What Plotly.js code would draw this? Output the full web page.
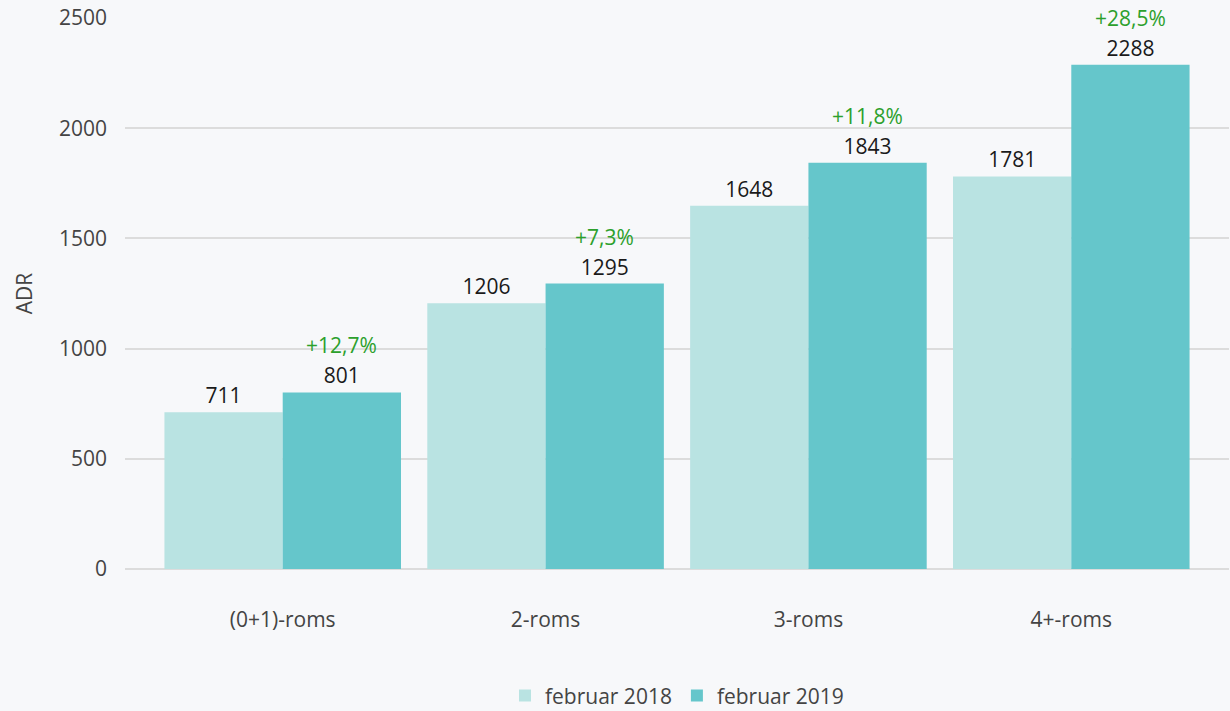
<!DOCTYPE html>
<html>
<head>
<meta charset="utf-8">
<script src="https://cdn.plot.ly/plotly-3.0.1.min.js"></script>
<style>html,body{margin:0;padding:0;background:#f7f8fa;}#chart{width:1230px;height:711px;}</style>
</head>
<body>
<div id="chart"></div>
<script>
const categories = ["(0+1)-roms", "2-roms", "3-roms", "4+-roms"];
const series2018 = [711, 1206, 1648, 1781];
const series2019 = [801, 1295, 1843, 2288];
const changeLabels = ["+12,7%", "+7,3%", "+11,8%", "+28,5%"];
const seriesNames = ["februar 2018", "februar 2019"];

const FONT = "Open Sans, Lato, sans-serif";
const FS = 21;

const traces = [
  {type: "bar", name: seriesNames[0], x: categories, y: series2018,
   marker: {color: "#b9e3e2"}, text: series2018.map(String), textposition: "outside",
   textfont: {color: "#1a1a1a", size: FS, family: FONT}, cliponaxis: false, hoverinfo: "x+y"},
  {type: "bar", name: seriesNames[1], x: categories, y: series2019,
   marker: {color: "#65c6cb"}, text: series2019.map(String), textposition: "outside",
   textfont: {color: "#1a1a1a", size: FS, family: FONT}, cliponaxis: false, hoverinfo: "x+y"}
];

const annotations = categories.map((c, i) => ({
  x: i + 0.225, y: series2019[i], xref: "x", yref: "y",
  text: changeLabels[i], showarrow: false, yanchor: "bottom", yshift: 31,
  font: {color: "#2ca02c", size: FS, family: FONT}
}));

const layout = {
  width: 1230, height: 711,
  paper_bgcolor: "#f7f8fa", plot_bgcolor: "#f7f8fa",
  margin: {l: 125, r: 1, t: 18, b: 142, autoexpand: false},
  font: {family: FONT, size: FS, color: "#444"},
  barmode: "group", bargap: 0.1, bargroupgap: 0,
  showlegend: true,
  legend: {orientation: "h", x: 0.5, xanchor: "center", y: -0.23, yanchor: "middle",
           font: {size: FS, color: "#444"}, traceorder: "normal", itemwidth: 30},
  xaxis: {type: "category", range: [-0.6, 3.6], showgrid: false, zeroline: false, automargin: false,
          showline: false, ticks: "", tickfont: {size: FS, color: "#444"}, ticklabelstandoff: 36},
  yaxis: {range: [0, 2500], dtick: 500, showgrid: true, gridcolor: "#dcdcdc", gridwidth: 2, automargin: false,
          zeroline: true, zerolinecolor: "#dcdcdc", zerolinewidth: 2,
          tickfont: {size: FS, color: "#444"}, ticklabelstandoff: 17,
          title: {text: "ADR", font: {size: FS, color: "#444"}, standoff: 20}},
  annotations: annotations
};

Plotly.newPlot("chart", traces, layout, {displayModeBar: false});
</script>
</body>
</html>
